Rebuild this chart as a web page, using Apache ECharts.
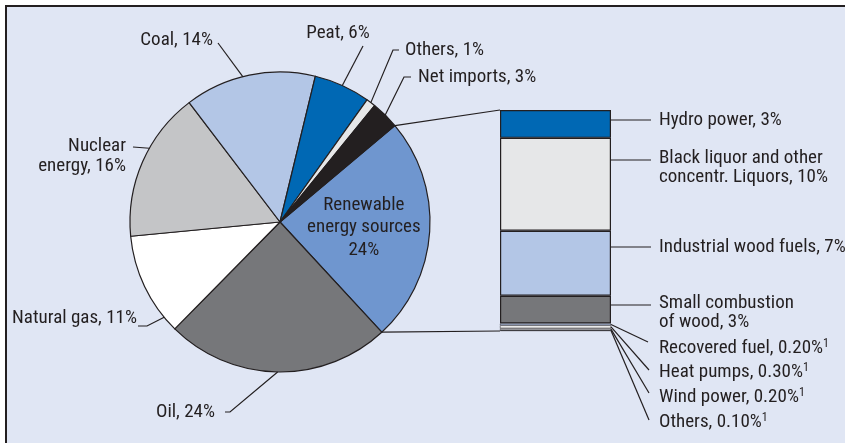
<!DOCTYPE html>
<html>
<head>
<meta charset="utf-8">
<script src="https://cdn.jsdelivr.net/npm/echarts@6/dist/echarts.min.js"></script>
<style>
  html, body { margin: 0; padding: 0; background: #ffffff; }
  #chart { width: 845px; height: 443px; }
</style>
</head>
<body>
<div id="chart"></div>
<script>
// Total energy supply by source (pie) and breakdown of renewables (stacked column)
const pieNames  = ['Renewable energy sources', 'Oil', 'Natural gas', 'Nuclear energy', 'Coal', 'Peat', 'Others', 'Net imports'];
const pieValues = [24, 24, 11, 16, 14, 6, 1, 3];
const pieColors = ['#6f96cf', '#76777a', '#ffffff', '#c4c5c7', '#b3c6e6', '#0068b4', '#e6e7e8', '#231f20'];

const mixNames  = ['Hydro power', 'Black liquor and other concentr. Liquors', 'Industrial wood fuels',
                   'Small combustion of wood', 'Recovered fuel', 'Heat pumps', 'Wind power', 'Others'];
const mixValues = [3, 10, 7, 3, 0.2, 0.3, 0.2, 0.1];
const mixColors = ['#0068b4', '#e6e7e8', '#b3c6e6', '#76777a', '#b3c6e6', '#ffffff', '#e6e7e8', '#231f20'];
const mixNotes  = ['', '', '', '', '1', '1', '1', '1'];

const pieLabels = ['Renewable\nenergy sources\n24%', 'Oil, 24%', 'Natural gas, 11%', 'Nuclear\nenergy, 16%',
                   'Coal, 14%', 'Peat, 6%', 'Others, 1%', 'Net imports, 3%'];
const mixLabels = ['Hydro power, 3%', 'Black liquor and other\nconcentr. Liquors, 10%', 'Industrial wood fuels, 7%',
                   'Small combustion\nof wood, 3%', 'Recovered fuel, 0.20%', 'Heat pumps, 0.30%',
                   'Wind power, 0.20%', 'Others, 0.10%'];

const FONT = "'Liberation Sans Narrow', 'Arial Narrow', 'Roboto Condensed', sans-serif";
const FS = 19;
const INK = '#231f20';
const BG = '#e0e6f4';
const PIE_CENTER = [280, 222];
const PIE_R = 150;
const PIE_START = 40;

const chart = echarts.init(document.getElementById('chart'), null, { renderer: 'canvas' });
const mixTotal = mixValues.reduce((a, b) => a + b, 0);

chart.setOption({
  animation: false,
  backgroundColor: '#ffffff',
  grid: { left: 500, top: 110, width: 111, height: 221 },
  xAxis: { type: 'category', data: ['renewables'], show: false },
  yAxis: { type: 'value', min: 0, max: mixTotal, inverse: true, show: false },
  series: [
    {
      type: 'pie',
      center: PIE_CENTER,
      radius: PIE_R,
      startAngle: PIE_START,
      clockwise: true,
      silent: true,
      label: { show: false },
      labelLine: { show: false },
      emphasis: { disabled: true },
      itemStyle: { borderColor: INK, borderWidth: 1.2 },
      data: pieNames.map((n, i) => ({ name: n, value: pieValues[i], itemStyle: { color: pieColors[i] } }))
    }
  ].concat(mixNames.map((n, i) => ({
    type: 'bar',
    name: n,
    stack: 'renewables',
    barWidth: '100%',
    silent: true,
    emphasis: { disabled: true },
    // the thin strips get hairline edges so their fills stay visible
    itemStyle: { color: mixColors[i], borderColor: INK, borderWidth: mixValues[i] < 1 ? 0.5 : 1.2 },
    data: [mixValues[i]]
  })))
});

// ---- annotations derived from the drawn geometry ----
const pieTotal = pieValues.reduce((a, b) => a + b, 0);
const sliceSpans = [];
let acc = 0;
pieValues.forEach(v => {
  const a0 = -PIE_START + acc / pieTotal * 360;
  acc += v;
  sliceSpans.push([a0, -PIE_START + acc / pieTotal * 360]);
});
function piePoint(deg, r) {
  const a = deg * Math.PI / 180;
  return [PIE_CENTER[0] + r * Math.cos(a), PIE_CENTER[1] + r * Math.sin(a)];
}
function sliceAt(i, frac) {
  const s = sliceSpans[i];
  return s[0] + (s[1] - s[0]) * frac;
}

const textStyle = (text, x, y, align, lh) => ({
  type: 'text', z: 20, silent: true,
  style: { text, x, y, align, verticalAlign: 'middle', font: FS + 'px ' + FONT,
           fontFamily: FONT, fontSize: FS, lineHeight: lh || 20, fill: INK }
});
const line = (pts) => ({
  type: 'polyline', z: 15, silent: true,
  shape: { points: pts },
  style: { stroke: INK, lineWidth: 1.2, fill: null }
});

const g = [];
// panel
g.push({ type: 'rect', z: -10, silent: true, shape: { x: 6, y: 6, width: 900, height: 500 },
         style: { fill: BG, stroke: INK, lineWidth: 2 } });

// pie label placement: text anchor, alignment, leader points (text side), position within slice
const pieLabelLayout = [
  null,
  { x: 215, y: 412, align: 'right', pts: [[225, 412], [230, 412]], frac: 0.5 },
  { x: 137, y: 318, align: 'right', pts: [[138, 326], [147, 326]], frac: 0.15 },
  { x: 126, y: 156, align: 'right', pts: [[133, 147]], frac: 0.6 },
  { x: 213, y: 40,  align: 'right', pts: [[218, 43]], frac: 0.45 },
  { x: 338, y: 33,  align: 'center', pts: [[363, 46]], frac: 0.5 },
  { x: 405, y: 50,  align: 'left', pts: [[399, 50], [393, 50]], frac: 0.5 },
  { x: 418, y: 77,  align: 'left', pts: [[411, 77], [404, 77]], frac: 0.5 }
];
pieLabelLayout.forEach((L, i) => {
  if (!L) return;
  g.push(textStyle(pieLabels[i], L.x, L.y, L.align, 20));
  g.push(line(L.pts.concat([piePoint(sliceAt(i, L.frac), PIE_R)])));
});
// label inside the renewable slice
const inner = piePoint(sliceAt(0, 0.5), PIE_R * 0.56);
g.push(textStyle(pieLabels[0], inner[0], inner[1], 'center', 22.5));

// stacked column geometry
const barLeft = 500, barRight = 611;
const yAt = v => chart.convertToPixel({ yAxisIndex: 0 }, v);
const bounds = [];
let run = 0;
mixValues.forEach(v => { bounds.push([yAt(run), yAt(run + v)]); run += v; });
const barTop = bounds[0][0], barBottom = bounds[bounds.length - 1][1];

// connectors from the renewable slice to the column
g.push(line([piePoint(sliceSpans[0][0], PIE_R), [barLeft, barTop]]));
g.push(line([piePoint(sliceSpans[0][1], PIE_R), [barLeft, barBottom]]));

// column labels: text centre y, leader end
const mixLabelLayout = [
  { y: 120,   leadY: 120, end: [651, 120] },
  { y: 167.5, leadY: 160, end: [651, 160] },
  { y: 247,   leadY: 247, end: [651, 247] },
  { y: 313,   leadY: 305, end: [651, 305] },
  { y: 348, end: [648, 342] },
  { y: 372, end: [649, 370] },
  { y: 397, end: [649, 393] },
  { y: 422, end: [649, 420] }
];
mixLabelLayout.forEach((L, i) => {
  const b = bounds[i];
  let sy;
  if (L.leadY !== undefined) {
    sy = Math.min(Math.max(L.leadY, b[0] + 3), b[1] - 3);
    g.push(line([[barRight, sy], [L.end[0], sy]]));
  } else {
    sy = (b[0] + b[1]) / 2;
    g.push(line([[barRight, sy], L.end]));
  }
  if (mixNotes[i]) {
    g.push({
      type: 'text', z: 20, silent: true,
      style: {
        text: '{m|' + mixLabels[i] + '}{s|' + mixNotes[i] + '}',
        x: 659, y: L.y, align: 'left', verticalAlign: 'middle',
        rich: {
          m: { fontFamily: FONT, fontSize: FS, lineHeight: 20, fill: INK, color: INK },
          s: { fontFamily: FONT, fontSize: 12, lineHeight: 20, verticalAlign: 'top', fill: INK, color: INK }
        }
      }
    });
  } else {
    g.push(textStyle(mixLabels[i], 659, L.y, 'left', 19));
  }
});

chart.setOption({ graphic: g });
</script>
</body>
</html>
